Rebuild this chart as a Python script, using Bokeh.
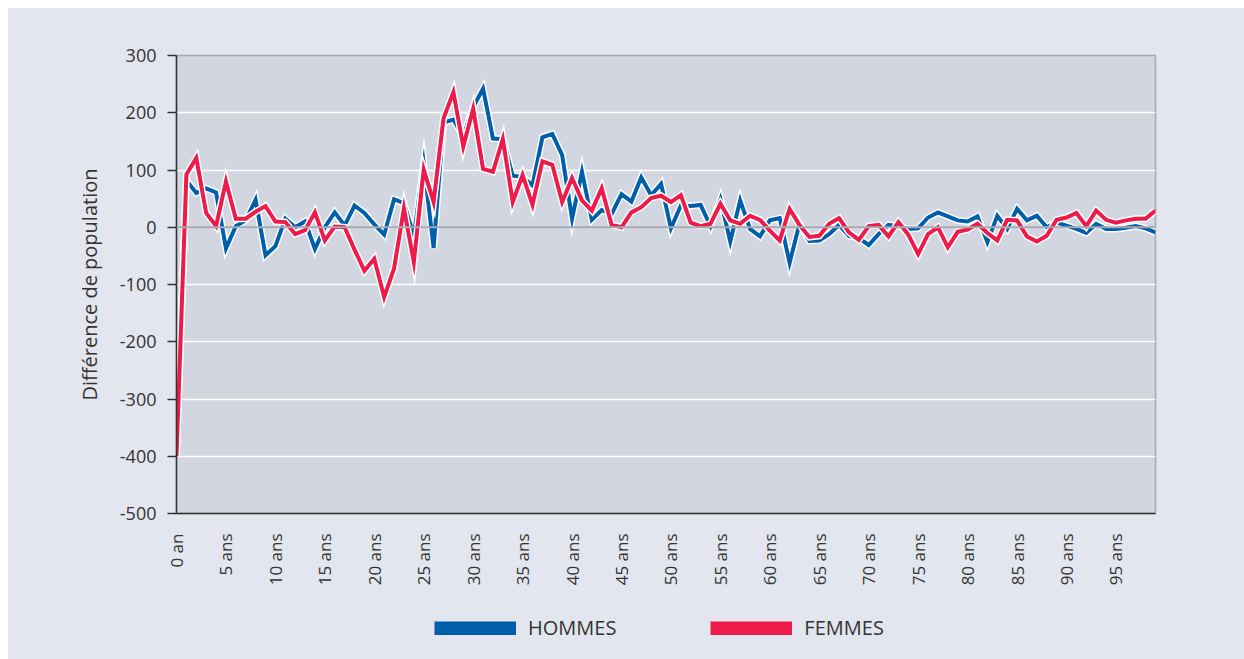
import math
from bokeh.plotting import figure
from bokeh.layouts import column
from bokeh.models import Range1d, FixedTicker, Span, Legend, LegendItem
from bokeh.embed import file_html
from bokeh.resources import INLINE

# ---- data ----
ages = list(range(0, 100))
hommes = [-385, 82, 60, 68, 61, -37, 2, 12, 48, -49,
          -33, 15, 0, 10, -38, 0, 26, 3, 38, 25,
          5, -13, 49, 42, -15, 111, -36, 183, 188, 159,
          210, 242, 155, 154, 90, 88, 73, 157, 163, 126,
          15, 97, 13, 30, 23, 58, 45, 87, 56, 76,
          -2, 38, 37, 39, 2, 49, -25, 47, -3, -16,
          12, 16, -62, 6, -24, -23, -12, 4, -15, -19,
          -31, -12, 4, 2, -3, -2, 17, 26, 19, 12,
          10, 19, -26, 20, -3, 32, 12, 20, 0, 8,
          3, -3, -10, 6, -3, -3, -1, 2, -2, -9]
femmes = [-400, 92, 121, 25, 2, 80, 15, 15, 27, 37,
          10, 9, -12, -5, 26, -23, 1, 0, -39, -76,
          -55, -122, -72, 33, -61, 101, 44, 190, 236, 141,
          207, 102, 97, 154, 44, 91, 39, 115, 109, 44,
          86, 47, 29, 68, 4, 0, 26, 35, 51, 55,
          44, 56, 8, 2, 6, 41, 12, 6, 20, 13,
          -6, -23, 32, 4, -17, -15, 6, 16, -9, -22,
          2, 4, -16, 9, -13, -47, -12, 0, -35, -8,
          -4, 6, -10, -23, 13, 12, -16, -25, -15, 13,
          17, 25, 2, 29, 13, 8, 12, 15, 15, 29]
x_ticks = list(range(0, 100, 5))
x_labels = ["0 an"] + [f"{a} ans" for a in x_ticks[1:]]
y_ticks = [-500, -400, -300, -200, -100, 0, 100, 200, 300]
y_labels = ["-500", "-400", "-300", "-200", "-100", "0", "100", "200", "300"]
series_names = ["HOMMES", "FEMMES"]

# ---- style ----
BLUE = "#005faa"
RED = "#ee1a4a"
BG = "#e3e6ee"
PLOT_BG = "#d2d6e0"
TXT = "#333333"
FONT = "Open Sans"

p = figure(width=1236, height=600, output_backend="svg", toolbar_location=None,
           x_range=Range1d(0, 99), y_range=Range1d(-500, 300),
           min_border_left=168, min_border_right=89, min_border_top=47,
           min_border_bottom=95)
p.frame_align = False
p.styles = {"background-color": BG}
p.background_fill_color = PLOT_BG
p.border_fill_color = BG
p.outline_line_color = "#a6a9b1"
p.outline_line_width = 1.5

p.xgrid.grid_line_color = None
p.ygrid.grid_line_color = "white"
p.ygrid.grid_line_width = 1.5
p.ygrid.ticker = FixedTicker(ticks=y_ticks)

zero = Span(location=0, dimension="width", line_color="#a6a9b1", line_width=2)
p.add_layout(zero)

# lines with white halo
p.line(ages, hommes, line_color="white", line_width=7, line_join="miter")
p.line(ages, hommes, line_color=BLUE, line_width=4, line_join="miter")
p.line(ages, femmes, line_color="white", line_width=7, line_join="miter")
p.line(ages, femmes, line_color=RED, line_width=4, line_join="miter")

# axes
xa = p.xaxis[0]
xa.ticker = FixedTicker(ticks=x_ticks)
xa.major_label_overrides = {t: l for t, l in zip(x_ticks, x_labels)}
xa.major_label_orientation = math.pi / 2
xa.major_tick_line_color = None
xa.minor_tick_line_color = None
xa.axis_line_color = TXT
xa.axis_line_width = 1.5
xa.major_label_text_font = FONT
xa.major_label_text_font_size = "17px"
xa.major_label_text_color = TXT
xa.major_label_standoff = 14

ya = p.yaxis[0]
ya.ticker = FixedTicker(ticks=y_ticks)
ya.major_label_overrides = {t: l for t, l in zip(y_ticks, y_labels)}
ya.minor_tick_line_color = None
ya.major_tick_out = 9
ya.major_tick_in = 0
ya.major_tick_line_color = TXT
ya.major_tick_line_width = 1.5
ya.axis_line_color = TXT
ya.axis_line_width = 1.5
ya.major_label_text_font = FONT
ya.major_label_text_font_size = "18px"
ya.major_label_text_color = TXT
ya.major_label_standoff = 11
ya.axis_label = "Différence de population"
ya.axis_label_text_font = FONT
ya.axis_label_text_font_size = "20px"
ya.axis_label_text_font_style = "normal"
ya.axis_label_text_color = TXT
ya.axis_label_standoff = 14

# legend strip below the chart
leg = figure(width=1236, height=51, output_backend="svg", toolbar_location=None,
             x_range=Range1d(0, 1), y_range=Range1d(0, 1),
             x_axis_location=None, y_axis_location=None, min_border=0)
leg.frame_align = False
leg.styles = {"background-color": BG}
leg.grid.visible = False
leg.outline_line_color = None
leg.background_fill_color = BG
leg.border_fill_color = BG
# one off-range point each, only so that the legend swatches get their colour
hb = leg.line(x=[-5], y=[-5], line_color=BLUE, line_width=14, line_cap="butt")
hf = leg.line(x=[-5], y=[-5], line_color=RED, line_width=14, line_cap="butt")
legend = Legend(items=[LegendItem(label=series_names[0], renderers=[hb]),
                       LegendItem(label=series_names[1], renderers=[hf])],
                orientation="horizontal", location=(426, 18),
                glyph_width=82, glyph_height=14, label_standoff=12, spacing=94,
                padding=0, margin=0, border_line_color=None,
                background_fill_alpha=0,
                label_text_font=FONT, label_text_font_size="20px",
                label_text_color=TXT)
leg.add_layout(legend)

layout = column(p, leg, spacing=0, margin=(8, 0, 0, 8))
layout.styles = {"background-color": BG}

open("out.html", "w").write(file_html(layout, INLINE))
